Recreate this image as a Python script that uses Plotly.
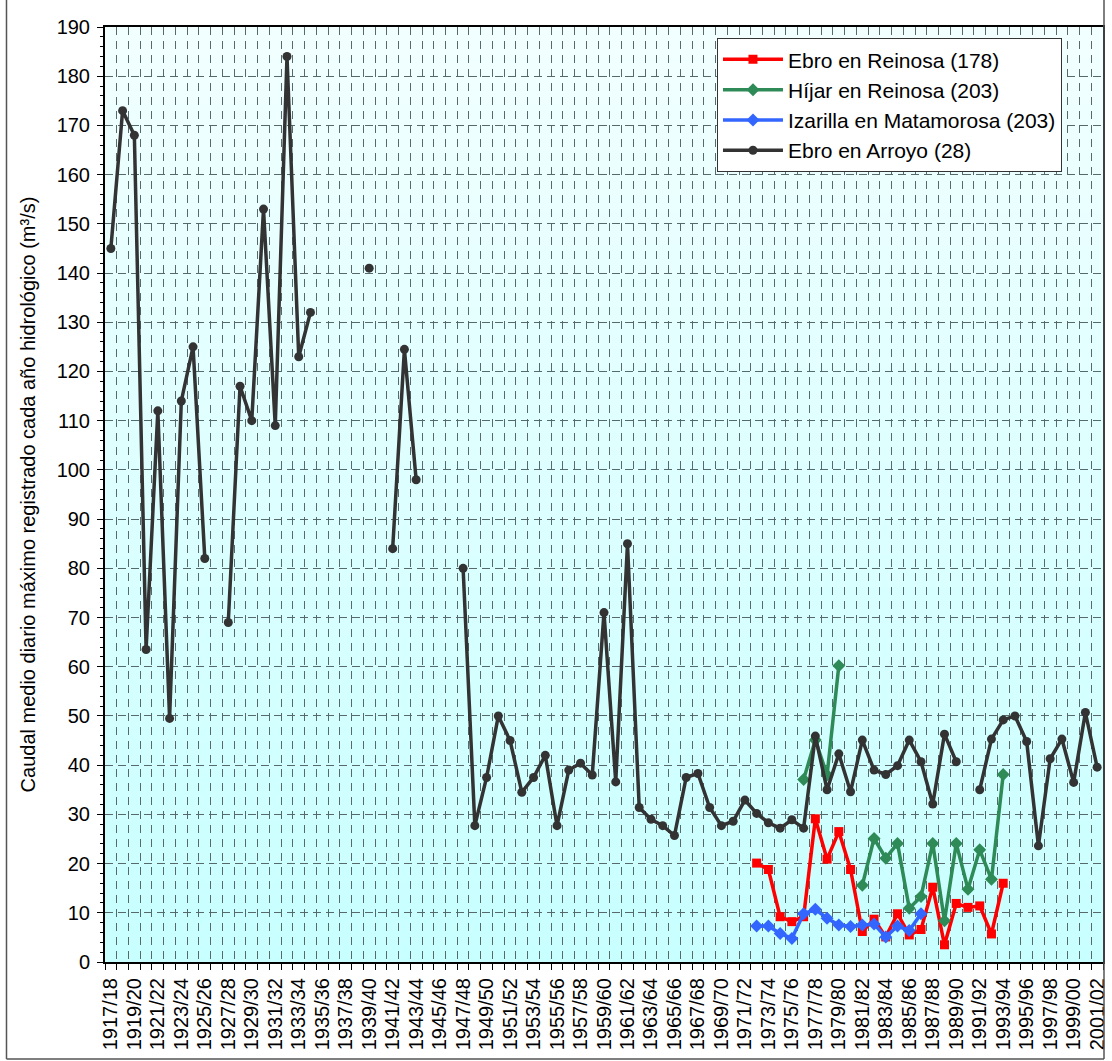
import plotly.graph_objects as go

# Hydrological years 1917/18 ... 2001/02
years = [f"{y}/{(y + 1) % 100:02d}" for y in range(1917, 2002)]
tick_labels = [lab if i % 2 == 0 else "" for i, lab in enumerate(years)]

# Ebro en Arroyo: full record, None where no data
arroyo = [
    145, 173, 168, 63.5, 112, 49.5, 114, 125, 82, None,
    69, 117, 110, 153, 109, 184, 123, 132, None, None,
    None, None, 141, None, 84, 124.5, 98, None, None, None,
    80, 27.7, 37.5, 50, 45, 34.5, 37.5, 42, 27.7, 39,
    40.4, 38, 71, 36.6, 85, 31.4, 29, 27.7, 25.7, 37.5,
    38.3, 31.4, 27.7, 28.6, 32.9, 30.2, 28.3, 27.2, 28.9, 27.2,
    45.9, 35, 42.3, 34.6, 45.1, 39, 38.1, 39.9, 45.1, 40.7,
    32.1, 46.3, 40.7, None, 35, 45.3, 49.2, 50, 44.8, 23.6,
    41.3, 45.3, 36.5, 50.7, 39.6,
]

# Ebro en Reinosa, from 1972/73
reinosa_start = "1972/73"
reinosa = [20.1, 18.8, 9.2, 8.2, 9.2, 29.1, 20.9, 26.5, 18.8, 6.2,
           8.7, 5.1, 9.8, 5.5, 6.6, 15.2, 3.5, 11.9, 11.1, 11.4,
           5.7, 16.0]

# Híjar en Reinosa, from 1976/77
hijar_start = "1976/77"
hijar = [37.1, 45.1, 38.0, 60.2, None, 15.6, 25.1, 21.1, 24.1, 10.9,
         13.3, 24.1, 8.4, 24.1, 14.8, 22.8, 16.8, 38.1]

# Izarilla en Matamorosa, from 1972/73
izarilla_start = "1972/73"
izarilla = [7.3, 7.3, 5.8, 4.8, 9.8, 10.7, 8.9, 7.5, 7.2, 7.5,
            7.7, 5.1, 7.3, 6.4, 9.8]


def span(start, values):
    i0 = years.index(start)
    return years[i0:i0 + len(values)]


fig = go.Figure()

series = [
    ("Ebro en Reinosa (178)", span(reinosa_start, reinosa), reinosa, "#FF0000", "square", 9),
    ("Híjar en Reinosa (203)", span(hijar_start, hijar), hijar, "#2E8B57", "diamond", 10),
    ("Izarilla en Matamorosa (203)", span(izarilla_start, izarilla), izarilla, "#3366FF", "diamond", 10),
    ("Ebro en Arroyo (28)", years, arroyo, "#333333", "circle", 9),
]
for name, xs, ys, color, symbol, size in series:
    fig.add_trace(go.Scatter(
        x=xs, y=ys, name=name, mode="lines+markers",
        connectgaps=False,
        line=dict(color=color, width=3.5),
        marker=dict(color=color, symbol=symbol, size=size),
    ))

# Vertical gradient for the plot background (light azure to pale cyan)
shapes = []
n_bands = 60
top_rgb = (242, 255, 255)
bot_rgb = (200, 255, 255)
for k in range(n_bands):
    t = (k + 0.5) / n_bands
    r = round(top_rgb[0] + (bot_rgb[0] - top_rgb[0]) * t)
    g = round(top_rgb[1] + (bot_rgb[1] - top_rgb[1]) * t)
    b = round(top_rgb[2] + (bot_rgb[2] - top_rgb[2]) * t)
    shapes.append(dict(
        type="rect", xref="x domain", yref="y domain", layer="below",
        x0=0, x1=1, y0=1 - (k + 1) / n_bands, y1=1 - k / n_bands + 0.001,
        fillcolor=f"rgb({r},{g},{b})", line=dict(width=0),
    ))

# Outer chart frame: left, bottom and right edges
frame_x0, frame_x1, frame_y0, frame_y1 = -99 / 1003, 1.001, -97 / 935, 1.03
for x0, y0, x1, y1 in [
    (frame_x0, frame_y0, frame_x0, frame_y1),
    (frame_x0, frame_y0, frame_x1, frame_y0),
    (frame_x1, frame_y0, frame_x1, frame_y1),
]:
    shapes.append(dict(
        type="line", xref="paper", yref="paper", layer="above",
        x0=x0, y0=y0, x1=x1, y1=y1,
        line=dict(color="#555555", width=1.5),
    ))

grid_color = "#56696b"
font_family = "Liberation Sans, Arial, sans-serif"

fig.update_layout(
    width=1112, height=1061,
    margin=dict(l=105, r=4, t=27, b=99),
    paper_bgcolor="white",
    plot_bgcolor="rgb(220,255,255)",
    font=dict(family=font_family, size=20, color="black"),
    shapes=shapes,
    showlegend=True,
    legend=dict(
        x=0.6132, y=0.988, xanchor="left", yanchor="top",
        bgcolor="white", bordercolor="#333333", borderwidth=1,
        font=dict(family=font_family, size=21, color="black"),
        tracegroupgap=0, itemwidth=60,
    ),
    xaxis=dict(
        type="category",
        categoryorder="array", categoryarray=years,
        range=[-0.5, len(years) - 0.5],
        tickmode="array", tickvals=years, ticktext=tick_labels,
        tickson="boundaries",
        tickangle=-90,
        ticks="outside", ticklen=6, tickcolor="black", tickwidth=1,
        ticklabelstandoff=6,
        showgrid=True, gridcolor=grid_color, gridwidth=1.3, griddash="8px,6px",
        showline=True, linecolor="black", linewidth=2, mirror=True,
        tickfont=dict(family=font_family, size=20),
        fixedrange=True,
    ),
    yaxis=dict(
        range=[0, 190], dtick=10, tick0=0,
        ticks="outside", ticklen=6, tickcolor="black", tickwidth=1,
        ticklabelstandoff=3,
        minor=dict(dtick=2, ticks="outside", ticklen=3, tickcolor="black", showgrid=False),
        showgrid=True, gridcolor=grid_color, gridwidth=1.3, griddash="8px,5px",
        showline=True, linecolor="black", linewidth=2, mirror=True,
        zeroline=False,
        tickfont=dict(family=font_family, size=20),
        title=dict(
            text="Caudal medio diario máximo registrado cada año hidrológico (m³/s)",
            font=dict(family=font_family, size=20),
            standoff=16,
        ),
    ),
)

fig.write_html("out.html")
